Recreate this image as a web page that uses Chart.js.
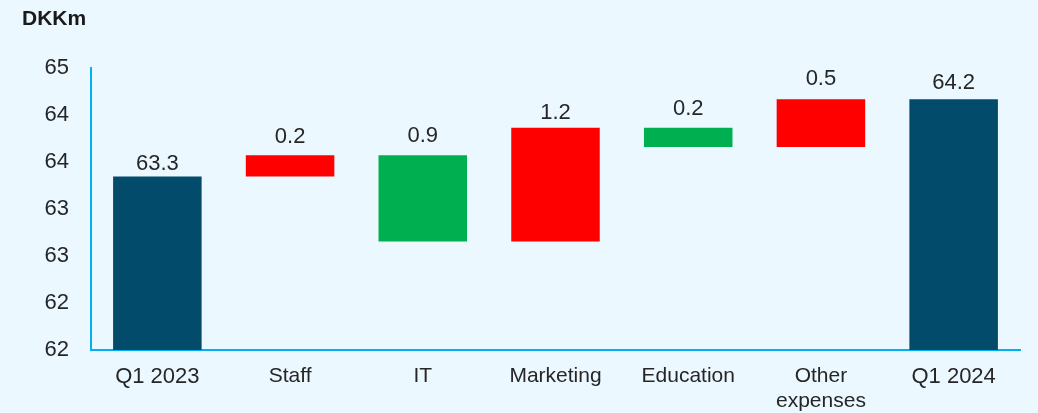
<!DOCTYPE html>
<html>
<head>
<meta charset="utf-8">
<script src="https://cdn.jsdelivr.net/npm/chart.js@4/dist/chart.umd.min.js"></script>
<style>
  html, body { margin: 0; padding: 0; background: #ebf8ff; }
  #wrap { width: 1038px; height: 413px; position: relative; }
</style>
</head>
<body>
<div id="wrap"><canvas id="waterfall"></canvas></div>
<script>
// waterfall data, DKKm
const categories = ['Q1 2023', 'Staff', 'IT', 'Marketing', 'Education', ['Other', 'expenses'], 'Q1 2024'];
const values = [63.34, 0.23, -0.94, 1.24, -0.21, 0.52, 64.18];
const isTotal = [true, false, false, false, false, false, true];
const yTickLabels = ['62', '62', '63', '63', '64', '64', '65'];
const yMin = 61.45;
const yMax = 64.52;

// label gap above each bar (px), labels sit a bit uneven in the original
const labelGap = [6, 12, 13.5, 8.5, 12.5, 14, 10];

const FONT = "'Liberation Sans', Arial, sans-serif";
const TEXT = '#262626';
const AXIS = '#00b0f0';

let running = 0;
const ranges = values.map((v, i) => {
    if (isTotal[i]) {
        running = v;
        return [yMin, v];
    }
    const start = running;
    running += v;
    return [start, running];
});

const colors = values.map((v, i) => isTotal[i] ? '#034b6a' : (v > 0 ? '#ff0000' : '#00b050'));

const bgPlugin = {
    id: 'bg',
    beforeDraw(chart) {
        const ctx = chart.ctx;
        ctx.save();
        ctx.fillStyle = '#ebf8ff';
        ctx.fillRect(0, 0, chart.width, chart.height);
        ctx.fillStyle = '#1a1a1a';
        ctx.font = 'bold 21px ' + FONT;
        ctx.textBaseline = 'alphabetic';
        ctx.fillText('DKKm', 22, 25);
        ctx.restore();
    }
};

const valueLabels = {
    id: 'valueLabels',
    afterDatasetsDraw(chart) {
        const ctx = chart.ctx;
        const meta = chart.getDatasetMeta(0);
        ctx.save();
        ctx.fillStyle = TEXT;
        ctx.font = '22px ' + FONT;
        ctx.textAlign = 'center';
        ctx.textBaseline = 'alphabetic';
        meta.data.forEach((bar, i) => {
            const top = Math.min(bar.y, bar.base);
            ctx.fillText(Math.abs(values[i]).toFixed(1), bar.x, top - labelGap[i]);
        });
        ctx.restore();
    }
};

new Chart(document.getElementById('waterfall'), {
    type: 'bar',
    data: {
        labels: categories,
        datasets: [{
            data: ranges,
            backgroundColor: colors,
            borderWidth: 0,
            categoryPercentage: 0.667,
            barPercentage: 1
        }]
    },
    options: {
        responsive: true,
        maintainAspectRatio: false,
        animation: false,
        layout: { padding: { top: 68, right: 18, left: 0, bottom: 0 } },
        plugins: {
            legend: { display: false },
            tooltip: { enabled: false }
        },
        scales: {
            x: {
                grid: { display: false, drawTicks: false },
                border: { color: AXIS, width: 2 },
                ticks: {
                    color: TEXT,
                    font: (c) => ({ family: FONT, size: isTotal[c.index] ? 22 : 21, lineHeight: 1.18 }),
                    padding: 14,
                    maxRotation: 0,
                    autoSkip: false
                },
                afterFit: (scale) => { scale.height = 63; }
            },
            y: {
                min: yMin,
                max: yMax,
                grid: { display: false, drawTicks: false },
                border: { color: AXIS, width: 2 },
                ticks: {
                    color: TEXT,
                    font: { family: FONT, size: 22 },
                    padding: 22,
                    callback: (v, i) => yTickLabels[i]
                },
                afterBuildTicks: (axis) => {
                    const step = (yMax - yMin) / (yTickLabels.length - 1);
                    axis.ticks = yTickLabels.map((_, i) => ({ value: yMin + i * step }));
                },
                afterFit: (scale) => { scale.width = 91; }
            }
        }
    },
    plugins: [bgPlugin, valueLabels]
});
</script>
</body>
</html>
